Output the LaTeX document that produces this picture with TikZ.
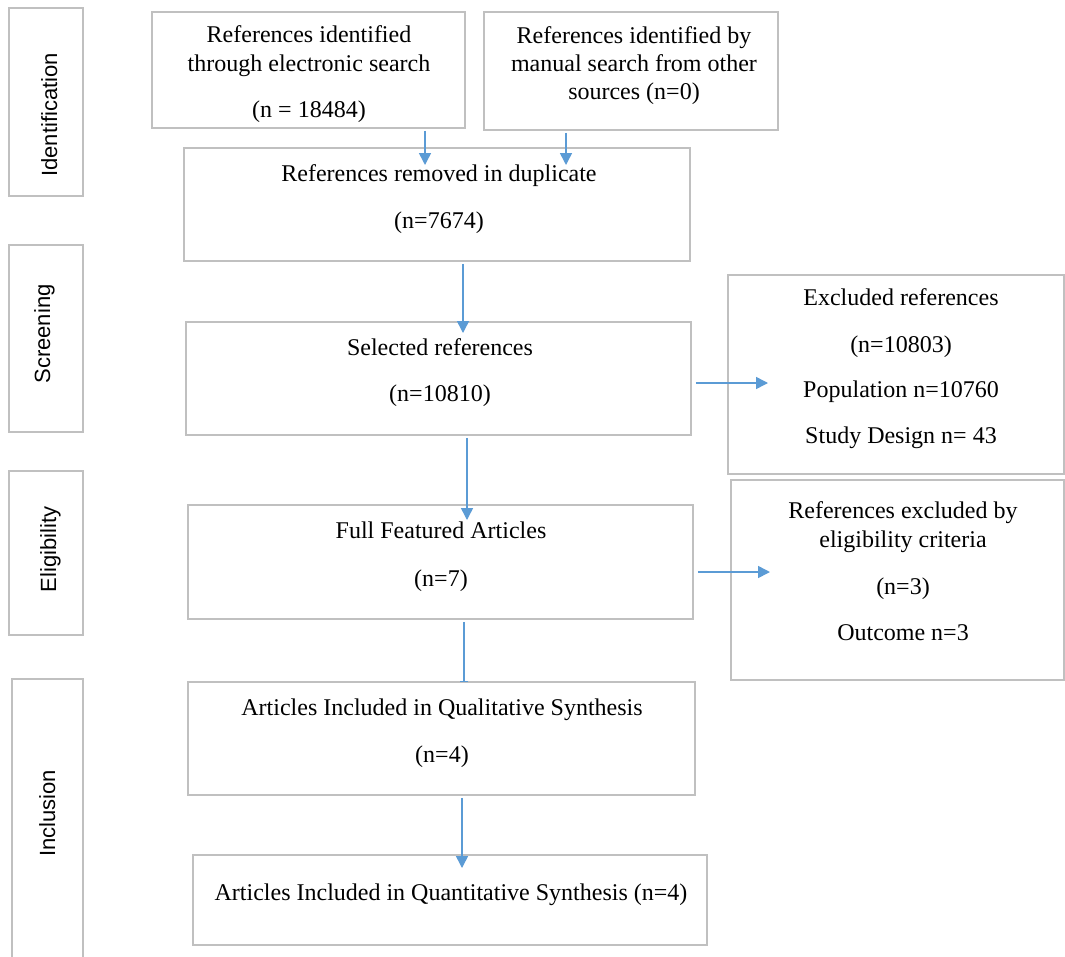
\documentclass[tikz,border=0pt]{standalone}
\usepackage{fontspec}
\setmainfont{Liberation Serif}
\newfontfamily\sidefont{Liberation Sans}
\usetikzlibrary{arrows.meta}
\definecolor{boxgray}{RGB}{192,192,192}
\definecolor{arrblue}{RGB}{91,155,213}
\begin{document}
\begin{tikzpicture}[x=1pt,y=-1pt,
  box/.style={draw=boxgray,line width=1.5pt,fill=white,rectangle,inner sep=0pt},
  txt/.style={inner sep=0pt,anchor=base,font=\fontsize{24}{28}\selectfont},
  side/.style={inner sep=0pt,anchor=base,rotate=90,font=\sidefont\fontsize{22}{26}\selectfont},
  arr/.style={draw=arrblue,line width=1.5pt,shorten <=2pt,-{Triangle[length=12pt,width=12pt]}},
  arrbar/.style={draw=arrblue,line width=1.5pt,shorten <=2pt,-{Bar[width=8pt,line width=1.5pt]}}]
\useasboundingbox (0,0) rectangle (1065,956);
% side stage boxes
\node[box,minimum width=74pt,minimum height=188pt] (s1) at (46,102) {};
\node[box,minimum width=74pt,minimum height=187pt] (s2) at (46,338.5) {};
\node[box,minimum width=74pt,minimum height=164pt] (s3) at (46,553) {};
\node[box,minimum width=71pt,minimum height=291pt] (s4) at (47.5,824.5) {};
\node[side] (l1) at (57,115) {Identification};
\node[side] (l2) at (50,334) {Screening};
\node[side] (l3) at (56,549.5) {Eligibility};
\node[side] (l4) at (55,813.5) {Inclusion};
% main boxes
\node[box,minimum width=313pt,minimum height=116pt] (A) at (308.5,70) {};
\node[box,minimum width=294pt,minimum height=118pt] (B) at (631,71) {};
\node[box,minimum width=506pt,minimum height=113pt] (C) at (437,204.5) {};
\node[box,minimum width=505pt,minimum height=113pt] (D) at (438.5,378.5) {};
\node[box,minimum width=336pt,minimum height=199pt] (E) at (896,374.5) {};
\node[box,minimum width=505pt,minimum height=114pt] (F) at (440.5,562) {};
\node[box,minimum width=333pt,minimum height=200pt] (G) at (897.5,580) {};
\node[box,minimum width=507pt,minimum height=113pt] (H) at (441.5,738.5) {};
\node[box,minimum width=514pt,minimum height=90pt] (I) at (450,900) {};
% texts
\node[txt] (ta1) at (309,42) {References identified};
\node[txt] (ta2) at (309,71) {through electronic search};
\node[txt] (ta3) at (309,117) {(n = 18484)};
\node[txt] (tb1) at (634,43) {References identified by};
\node[txt] (tb2) at (634,71) {manual search from other};
\node[txt] (tb3) at (634,99) {sources (n=0)};
\node[txt] (tc1) at (439,181) {References removed in duplicate};
\node[txt] (tc2) at (439,228) {(n=7674)};
\node[txt] (td1) at (440,355) {Selected references};
\node[txt] (td2) at (440,401) {(n=10810)};
\node[txt] (te1) at (901,305) {Excluded references};
\node[txt] (te2) at (901,352) {(n=10803)};
\node[txt] (te3) at (901,397) {Population n=10760};
\node[txt] (te4) at (901,443) {Study Design n= 43};
\node[txt] (tf1) at (441,538) {Full Featured Articles};
\node[txt] (tf2) at (441,586) {(n=7)};
\node[txt] (tg1) at (903,518) {References excluded by};
\node[txt] (tg2) at (903,547) {eligibility criteria};
\node[txt] (tg3) at (903,594) {(n=3)};
\node[txt] (tg4) at (903,640) {Outcome n=3};
\node[txt] (th1) at (442,715) {Articles Included in Qualitative Synthesis};
\node[txt] (th2) at (442,762) {(n=4)};
\node[txt] (ti1) at (451,900) {Articles Included in Quantitative Synthesis (n=4)};
% arrow end points
\coordinate (e1) at (425,165);
\coordinate (e2) at (566,165);
\coordinate (e3) at (463,333);
\coordinate (e4) at (467,520);
\coordinate (e5) at (464,682);
\coordinate (e6) at (462,868);
\coordinate (e7) at (768,383);
\coordinate (e8) at (770,572);
% connectors
\draw[arr] (A.south -| e1) -- (e1);
\draw[arr] (B.south -| e2) -- (e2);
\draw[arr] (C.south -| e3) -- (e3);
\draw[arr] (D.south -| e4) -- (e4);
\draw[arrbar] (F.south -| e5) -- (e5);
\draw[arr] (H.south -| e6) -- (e6);
\draw[arr,shorten <=4pt] (D.east |- e7) -- (e7);
\draw[arr,shorten <=4pt] (F.east |- e8) -- (e8);
\end{tikzpicture}
\end{document}
